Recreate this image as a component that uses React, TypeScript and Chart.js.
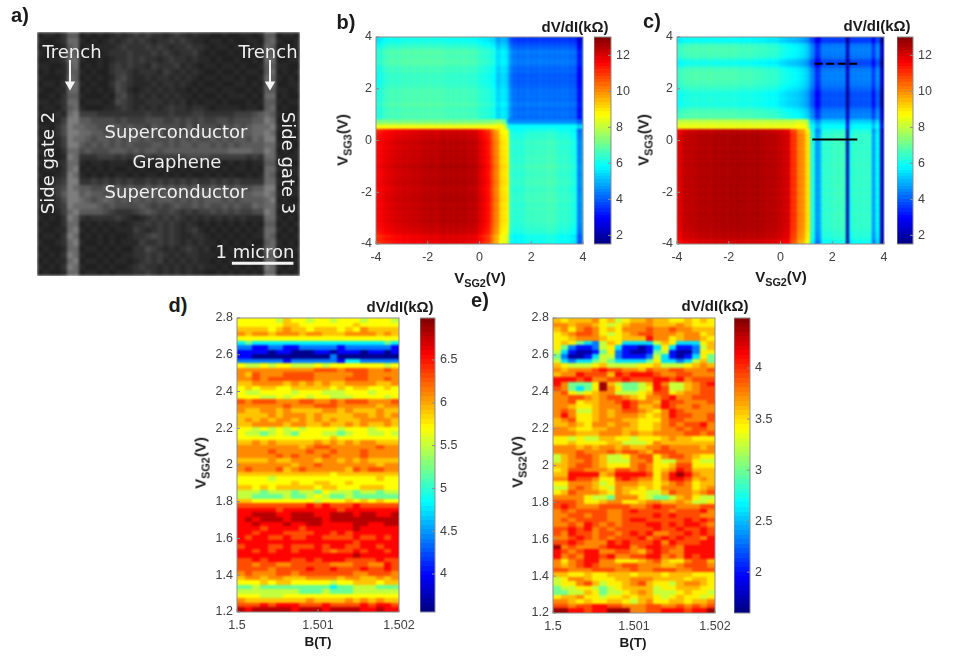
import { useEffect, useRef } from "react";
import { Chart } from "chart.js/auto";

// ---- panel b / c: V_SG2 columns (-4..4 step 0.1), profile picked per V_SG3 row
const bLower = [11.4,11.5,11.6,11.7,11.8,11.8,11.9,11.9,12,12,12,12.1,12,12.1,12.1,12.2,12.1,12.2,12.2,12.3,12.2,12.3,12.3,12.2,12.3,12.3,12.4,12.3,12.3,12.4,12.3,12.4,12.3,12.3,12.4,12.3,12.2,12.3,12.2,12.2,11.9,11.8,11.6,11.4,11.2,10.6,10.1,10,9.2,9,8.9,8.7,6.4,6.3,6.2,6.3,6.2,6.3,6.4,6.5,6.4,6.4,6.5,6.4,6.5,6.4,6.5,6.6,6.5,6.5,6.4,6.3,6.3,6.4,6.3,6.2,6.1,6,4.4,4.3,5.5];
const bBand = [7.7,7.7,7.6,7.7,7.7,7.6,7.7,7.7,7.7,7.6,7.7,7.7,7.6,7.7,7.7,7.7,7.6,7.7,7.7,7.6,7.7,7.7,7.7,7.6,7.7,7.7,7.6,7.7,7.7,7.7,7.6,7.7,7.7,7.6,7.7,7.7,7.7,7.6,7.7,7.7,7.7,7.6,7.7,7.7,7.7,7.8,7.8,7.9,8,7.7,7.2,5.2,5,5,5,5,5,5,5,5,5,5,5,5,5,5,5,5,5,5,5,5,5,5,5,5,5,5,4.4,4.4,5];
const bUpper = [6,6.1,6.2,6.4,6.5,6.5,6.6,6.6,6.5,6.6,6.6,6.6,6.7,6.6,6.6,6.7,6.6,6.6,6.7,6.6,6.6,6.7,6.6,6.6,6.7,6.6,6.6,6.6,6.5,6.6,6.5,6.6,6.5,6.5,6.6,6.5,6.5,6.5,6.5,6.4,6.3,6.3,6.2,6.2,6.1,6,5.9,5.3,5.4,5.6,5.5,5.2,4.5,4.2,4.2,4.1,4.2,4.1,4.2,4.2,4.1,4.2,4.1,4.2,4.2,4.1,4.2,4.1,4.2,4.1,4.2,4.1,4.2,4.1,4.2,4,4.1,4,3.1,3,4.4];
const bRowShift = [-0.6,-0.5,-0.3,-0.5,-0.2,-0.1,-0.1,0,0,0.1,0,0.1,0,0.1,0.1,0,0.1,0.2,0.1,0.1,0.1,0,0.1,0.1,0.2,0.1,0.1,0,0.1,0.1,0.2,0.1,0,0.1,0.1,0,0.1,0,0,0.1,0,-0.1,-0.1,-0.2,-0.4,0.9,0.7,-0.4,-0.6,0,0.1,0.1,0,0.1,0.2,0.1,0,0.1,0,0.1,0,-0.1,-0.1,-0.2,-0.1,-0.2,-0.1,0,-0.1,0.1,0.2,0.2,0.1,0.1,0.2,0.1,-0.1,-0.3,-0.5,-0.6,-0.5];

const cLower = [11.6,11.8,12,12.2,12.2,12.3,12.2,12.3,12.3,12.4,12.3,12.4,12.4,12.3,12.4,12.5,12.4,12.4,12.5,12.4,12.4,12.5,12.4,12.5,12.5,12.4,12.5,12.4,12.4,12.5,12.4,12.5,12.4,12.4,12.4,12.3,12.4,12.3,12.3,12.2,12.2,12.1,12,12,11.1,11,10.9,10.1,10,9.9,9.1,8.9,6.2,6.1,4.6,4.8,6.2,6.3,6.4,6.3,6.4,6.5,6.4,6.5,6.5,6.4,2,6,6.3,6.4,6.4,6.3,6.4,6.3,6.4,6.2,4.6,5.6,5.9,2.1,3.4];
const cBand = [7.7,7.7,7.6,7.7,7.7,7.6,7.7,7.7,7.7,7.6,7.7,7.7,7.6,7.7,7.7,7.7,7.6,7.7,7.7,7.6,7.7,7.7,7.7,7.6,7.7,7.7,7.6,7.7,7.7,7.7,7.6,7.7,7.7,7.6,7.7,7.7,7.7,7.6,7.7,7.7,7.7,7.6,7.7,7.7,7.7,7.7,7.9,7.9,7.8,7.8,7.6,6.4,5,5,4.2,4.3,5,5,5,5,5,5,5,5,5,5,2.2,4.8,5,5,5,5,5,5,5,5,4.2,5,5,2,3.3];
const cUpper = [6.1,6.2,6.3,6.4,6.4,6.5,6.4,6.5,6.5,6.4,6.5,6.4,6.5,6.5,6.4,6.5,6.4,6.5,6.4,6.5,6.4,6.4,6.5,6.4,6.4,6.3,6.4,6.3,6.4,6.3,6.3,6.3,6.2,6.3,6.2,6.2,6.1,6.2,6.1,6.1,5.9,5.9,5.8,5.7,5.7,5.6,5.6,5.5,5.4,5.3,5.1,4.8,4.3,4.1,3.2,3.4,4.2,4.1,4.2,4.1,4.2,4.1,4.2,4.1,4.2,4.1,1.9,4,4.2,4.1,4.2,4.1,4.2,4.1,4.2,4.1,3.3,4.2,4.4,2,2.8];
const cRowShift = [-0.5,-0.4,-0.2,-0.1,-0.1,0,0,0.1,0,0.1,0,0.1,0.1,0,0.1,0,0.1,0.1,0,0.1,0.1,0,0.1,0.1,0,0.1,0.1,0,0.1,0,0.1,0.1,0,0.1,0,0.1,0.1,0,0.1,0,0.1,0,0.1,-0.1,-0.2,0.8,0.8,0.4,0.1,0.3,0.3,0.2,0.1,-0.2,-0.3,-0.3,-0.2,-0.3,-0.3,-0.2,0,0.1,0.2,0.2,0.3,0.2,0.3,0.2,0.1,-0.3,-0.5,-0.3,0.1,0.2,0.2,0.3,0.2,0.1,-0.6,-0.5,-0.5];

const cSolidCut = [{ x: 1.23, y: 0.04 }, { x: 2.97, y: 0.04 }];
const cDashedCut = [{ x: 1.32, y: 2.97 }, { x: 2.97, y: 2.97 }];

// ---- panel d / e: B columns, V_SG2 rows top to bottom, one level character per cell
const dLevels = [3.6,4.0,4.4,4.8,5.2,5.5,5.7,5.9,6.1,6.3,6.55,6.8];
const dRows = [
  "666665766566566656665","666666776666666766666","777767877677767687777","878878887887778888787",
  "666666666666666666666","343333333333333333343","221122112222212222221","111101100011011101101",
  "110000000000200000000","222222122222213322222","655656655565666666656","888888888899989998898",
  "879888999988888998888","889899999988889998898","778888787878778888778","676776677777676776676",
  "655666656665556665666","666556566566555666656","989998889988989998889","888888988899988888788",
  "877887877778878777877","777787888787777887878","787878878787877788887","778888788778778787787",
  "665656565666656665666","655456546665545665565","666666666666766666666","778787777787878788777",
  "888888887899888888988","888898888988988898888","888889898889888898888","777787788878878787777",
  "888888878898888888788","898889789888887989988","777777777777677777777","666656666666666666766",
  "666666676677667666666","776767777767766677766","555455545546555455455","554444544565445444444",
  "776666666656667676766","999999999a9a999a99999","aaaaa9aaaaaaa9aaaaaaa","aabbbaabbbaabbbabbaab",
  "ababbbabbbbabbbbbbbbb","aabaaabaabbaaaabbaabb","aaa9aaaa9aaaaaabaaaaa","aa9aaa9999aa9a9aaaaaa",
  "a9aa99a99aa9999a99a9a","aaaaaaaaaaaaaaa9aaaaa","9aaa99a999a9aa99aa9aa","aa9a9aa9aaa9899a9aa9a",
  "aaaaaaaaaaaaaaabaaaaa","99a9aaa99a9aaa9999a99","9989988999998889988a9","999989999a99a999a99a9",
  "898889989999999889998","788788777888878877878","666767766666566777677","445444444444344555444",
  "555555554445444555555","666555666666666666666","877777777877778787877","999a9aaa999a9999a9aa9",
  "babbbbbabbbabbbbaabaa",
];

const eLevels = [1.7,2.0,2.3,2.6,3.0,3.25,3.45,3.6,3.75,3.92,4.1,4.4];
const eRows = [
  "767778675677877667676","887887656788877787666","786898676888988988777","678998656789988878867",
  "667888766777a88678876","676432576333357633367","642112563110136311257","531001462100145100266",
  "420013552111253101364","532334543333463323574","765556755556675556787","878889a99887988998889",
  "788a9997a9aaa98899888","aaa9a8899a999aa9a8999","a84446b754457a855789a","984346b864456a9557899",
  "896567885556799678899","889987899876889a88999","889677889a9887a998889","887667888a9778a988988",
  "898557878998768a98888","8a8667878887678a99889","789667888776668998889","7787688788766789899a8",
  "887667788776678898998","888777888787788889989","665655776656667877666","667666677555687777777",
  "888787887877889888878","888988898998799988888","578998755689968998766","578898755588965588655",
  "778998766689866799666","6799888799898678a9777","77aaaa78aaaa968aba877","88a998669a98868aa9787",
  "668887568887767898677","558987658776768888678","679888768766557988789","888865548886544578655",
  "999866788667887787556","9a98889999889a9988899","8989999889a99998999a8","8899899889999a9a99988",
  "8989999889aa99999a9a9","8898a9898999aa9a9aa98","99a9a89899999a99a99a9","98a9989989a9a8899a9a9",
  "889a9898999a89a9a998a","99a9888a9a999a8a999aa","b898889aaa89aa998aaaa","a989aa8899879a988aaaa",
  "a898aa9a8899aa898a9aa","8689aa886667897668997","8789a9888998887789998","998889998898899988999",
  "776676677767776777666","568876667788877776776","566897566789766578876","455665456777756677766",
  "445576455678755567665","677866566767765676656","887676677657866776778","99899aa99888998898989",
  "bbaa9aabbb8899aaa9aab",
];

// ---- panel a: micrograph brightness, coarse cells
const aGrays = [25,32,40,50,62,75,90,105,125,150];
const aRows = [
  "12213 66 1212123234 3433234323 22112112212 66 1221",
  "21123 77 2121232343 4323343432 21221211221 67 2112",
  "12112 67 1212223433 3434323343 32122121122 76 1212",
  "21213 76 1121233343 3343432334 21211212212 66 2121",
  "11223 77 2112123343 4332343323 22121121121 77 1122",
  "22112 67 1212134343 3243334232 12212212112 66 2211",
  "12122 66 2121134432 3332432323 21121121221 67 1212",
  "21112 76 1212124532 2323323232 12212212112 76 2121",
  "12213 67 2121135432 2232332321 21121122121 67 1122",
  "21122 77 1212125421 2323232212 12212211212 66 2212",
  "11213 66 2111214532 3232323221 21121222121 77 1211",
  "22123 77 1222125432 2333232312 12212111212 66 2122",
  "12213 67 2111223432 3232343323 32122221221 67 1211",
  "21132 78 4443333333 3433343334 43333344456 76 2112",
  "11224 88 6655554544 4555445454 54455455566 87 1222",
  "22135 87 7665566565 5465555464 55546565677 78 2112",
  "12135 88 7766565656 5556465565 65655656677 87 1221",
  "21224 87 7656656566 5655565656 55656566576 88 1212",
  "12124 88 6565656565 5566565665 66565656666 77 2121",
  "21213 77 5655566656 5665666666 66666777766 87 1212",
  "12112 87 3334443434 4434444455 55444444343 77 2122",
  "21123 77 2122122212 1212121221 12121212122 66 1211",
  "12213 78 1212121121 2112121212 21212122121 77 2122",
  "21123 87 2121212212 1221212121 12121211212 76 1212",
  "12234 88 3343434343 3434343434 33434343333 77 2121",
  "22345 87 6655656565 5656565656 55656565566 88 1212",
  "12246 88 6766565656 6565656565 66565656677 87 2122",
  "21235 88 7656765656 5656665656 56665656666 78 1211",
  "22134 87 7776565555 6545456556 56556565576 77 2122",
  "12124 78 6666543334 5654454343 44545454455 87 1212",
  "21213 87 3233334321 2343434323 23232323222 77 2121",
  "12113 77 1212122123 3434343232 12121212121 66 1212",
  "21122 78 2121212224 3234343234 21212121212 77 2121",
  "12213 87 1212121123 3454343223 32121212122 76 1212",
  "21123 78 2112121222 4334343232 32212121211 67 2121",
  "12112 77 1221212113 3543232343 23121212122 77 1212",
  "21213 87 2112121223 3434323233 22212121212 66 2221",
  "12122 78 1221212212 3434232323 22121212121 77 1112",
  "21213 87 2112121123 4332323232 32212121212 87 2121",
  "12112 77 1221212223 3432323232 21121212121 77 1212",
];

const aArrowLeft = [{ x: 5.52, y: 4.6 }, { x: 5.52, y: 8.6 }];
const aArrowRight = [{ x: 38.98, y: 4.6 }, { x: 38.98, y: 8.6 }];
const aScaleBar = [{ x: 32.6, y: 37.9 }, { x: 42.9, y: 37.9 }];

type Cell = { x0: number; x1: number; y0: number; y1: number; color: string };

const clamp = (v: number) => Math.max(0, Math.min(1, v));
const jet = (v: number, lo: number, hi: number) => {
  const t = clamp((v - lo) / (hi - lo));
  const r = clamp(1.5 - Math.abs(4 * t - 3));
  const g = clamp(1.5 - Math.abs(4 * t - 2));
  const b = clamp(1.5 - Math.abs(4 * t - 1));
  return `rgb(${Math.round(r * 255)},${Math.round(g * 255)},${Math.round(b * 255)})`;
};

function gateCells(lower: number[], band: number[], upper: number[], shift: number[]) {
  const cells: Cell[] = [];
  for (let r = 0; r < shift.length; r++) {
    const profile = r <= 44 ? lower : r <= 48 ? band : upper;
    for (let c = 0; c < profile.length; c++) {
      const x = -4 + c * 0.1;
      const y = -4 + r * 0.1;
      cells.push({ x0: x - 0.05, x1: x + 0.05, y0: y - 0.05, y1: y + 0.05, color: jet(profile[c] + shift[r], 1.52, 13.02) });
    }
  }
  return cells;
}

function fieldCells(rows: string[], levels: number[], lo: number, hi: number) {
  const cells: Cell[] = [];
  const w = 0.002 / 21;
  const h = 1.6 / rows.length;
  rows.forEach((row, r) => {
    for (let c = 0; c < 21; c++) {
      const level = parseInt(row[c] ?? row[row.length - 1], 16);
      cells.push({ x0: 1.5 + c * w, x1: 1.5 + (c + 1) * w, y0: 2.8 - (r + 1) * h, y1: 2.8 - r * h, color: jet(levels[level], lo, hi) });
    }
  });
  return cells;
}

function photoCells() {
  const cells: Cell[] = [];
  aRows.forEach((line, r) => {
    const row = line.replace(/ /g, "");
    for (let c = 0; c < row.length; c++) {
      const g = aGrays[Number(row[c])];
      cells.push({ x0: c, x1: c + 1, y0: r, y1: r + 1, color: `rgb(${g},${g},${g})` });
    }
  });
  return cells;
}

function barCells(lo: number, hi: number) {
  const cells: Cell[] = [];
  for (let k = 0; k < 64; k++) {
    const a = lo + ((hi - lo) * k) / 64;
    const b = lo + ((hi - lo) * (k + 1)) / 64;
    cells.push({ x0: 0, x1: 1, y0: a, y1: b, color: jet((a + b) / 2, lo, hi) });
  }
  return cells;
}

function heatPlugin(cells: Cell[], blur: number, framed: boolean, inwardRight = false) {
  return {
    id: "heat",
    beforeDatasetsDraw(chart: any) {
      const { ctx, chartArea: area, scales } = chart;
      const off = document.createElement("canvas");
      off.width = chart.width;
      off.height = chart.height;
      const o = off.getContext("2d")!;
      for (const cell of cells) {
        let l = Math.round(scales.x.getPixelForValue(cell.x0));
        let r = Math.round(scales.x.getPixelForValue(cell.x1));
        let t = Math.round(scales.y.getPixelForValue(cell.y1));
        let b = Math.round(scales.y.getPixelForValue(cell.y0));
        if (t > b) [t, b] = [b, t];
        if (l <= area.left + 1) l -= 6;
        if (r >= area.right - 1) r += 6;
        if (t <= area.top + 1) t -= 6;
        if (b >= area.bottom - 1) b += 6;
        o.fillStyle = cell.color;
        o.fillRect(l, t, r - l, b - t);
      }
      ctx.save();
      ctx.beginPath();
      ctx.rect(area.left, area.top, area.right - area.left, area.bottom - area.top);
      ctx.clip();
      ctx.filter = `blur(${blur}px)`;
      ctx.drawImage(off, 0, 0);
      ctx.restore();
    },
    afterDatasetsDraw(chart: any) {
      if (!framed) return;
      const { ctx, chartArea: area, scales } = chart;
      ctx.save();
      ctx.strokeStyle = "#8c8c8c";
      ctx.lineWidth = 1;
      ctx.strokeRect(area.left, area.top, area.right - area.left, area.bottom - area.top);
      ctx.beginPath();
      for (const t of scales.y.ticks) {
        const y = scales.y.getPixelForValue(t.value);
        if (inwardRight) {
          ctx.moveTo(area.right, y);
          ctx.lineTo(area.right - 3, y);
        } else {
          ctx.moveTo(area.left, y);
          ctx.lineTo(area.left + 3, y);
        }
      }
      if (!inwardRight) {
        for (const t of scales.x.ticks) {
          const x = scales.x.getPixelForValue(t.value);
          ctx.moveTo(x, area.bottom);
          ctx.lineTo(x, area.bottom - 3);
        }
      }
      ctx.stroke();
      ctx.restore();
    },
  };
}

const tickFont = { family: "Liberation Sans", size: 12.5 };
const tickColor = "#404040";

function axis(min: number, max: number, step: number, digits: number, size: { width?: number; height?: number }, padding = 4) {
  return {
    type: "linear",
    min,
    max,
    grid: { display: false, drawTicks: false },
    border: { display: false },
    afterFit: (s: any) => {
      if (size.width) s.width = size.width;
      if (size.height) s.height = size.height;
    },
    ticks: {
      stepSize: step,
      autoSkip: false,
      maxRotation: 0,
      padding,
      font: tickFont,
      color: tickColor,
      callback: (v: any) => String(+Number(v).toFixed(digits)),
    },
  };
}

function heatConfig(cells: Cell[], xr: number[], yr: number[], datasets: any[] = []) {
  return {
    type: "scatter",
    data: { datasets },
    plugins: [heatPlugin(cells, 0.8, true)],
    options: {
      animation: false,
      responsive: false,
      maintainAspectRatio: false,
      layout: { autoPadding: false, padding: { top: 20, right: 24, left: 0, bottom: 0 } },
      plugins: { legend: { display: false }, tooltip: { enabled: false } },
      scales: {
        x: axis(xr[0], xr[1], xr[2], xr[3], { height: 30 }, 6),
        y: axis(yr[0], yr[1], yr[2], yr[3], { width: 40 }),
      },
    },
  };
}

function barConfig(lo: number, hi: number, step: number, digits: number, firstTick: number) {
  return {
    type: "scatter",
    data: { datasets: [] },
    plugins: [heatPlugin(barCells(lo, hi), 0.4, true, true)],
    options: {
      animation: false,
      responsive: false,
      maintainAspectRatio: false,
      layout: { autoPadding: false, padding: { top: 20, right: 0, left: 0, bottom: 20 } },
      plugins: { legend: { display: false }, tooltip: { enabled: false } },
      scales: {
        x: { type: "linear", min: 0, max: 1, display: false },
        y: {
          ...axis(lo, hi, step, digits, { width: 34 }, 5),
          position: "right",
          afterBuildTicks: (s: any) => {
            const ticks = [];
            for (let v = firstTick; v <= hi; v += step) ticks.push({ value: +v.toFixed(digits) });
            s.ticks = ticks;
          },
        },
      },
    },
  };
}

const line = (data: any[], extra = {}) => ({
  data,
  showLine: true,
  pointRadius: 0,
  borderColor: "#000000",
  borderWidth: 2,
  ...extra,
});

function photoConfig() {
  const white = "#f4f4f4";
  const arrow = (data: any[]) =>
    line(data, {
      borderColor: white,
      backgroundColor: white,
      pointBorderColor: white,
      pointBackgroundColor: white,
      pointStyle: "triangle",
      pointRotation: 180,
      pointRadius: [0, 4],
    });
  return {
    type: "scatter",
    data: {
      datasets: [arrow(aArrowLeft), arrow(aArrowRight), line(aScaleBar, { borderColor: white, borderWidth: 3 })],
    },
    plugins: [heatPlugin(photoCells(), 1.8, false)],
    options: {
      animation: false,
      responsive: false,
      maintainAspectRatio: false,
      layout: { autoPadding: false, padding: 0 },
      plugins: { legend: { display: false }, tooltip: { enabled: false } },
      scales: {
        x: { type: "linear", min: 0, max: 44, display: false },
        y: { type: "linear", min: 0, max: 40, reverse: true, display: false },
      },
    },
  };
}

function ChartCanvas({ left, top, width, height, make }: { left: number; top: number; width: number; height: number; make: () => any }) {
  const ref = useRef<HTMLCanvasElement | null>(null);
  useEffect(() => {
    const chart = new Chart(ref.current as HTMLCanvasElement, make());
    return () => chart.destroy();
  }, []);
  return <canvas ref={ref} width={width} height={height} style={{ position: "absolute", left, top, width, height }} />;
}

function HeatPanel({ l, t, w, h, make }: { l: number; t: number; w: number; h: number; make: () => any }) {
  return <ChartCanvas left={l - 40} top={t - 20} width={w + 64} height={h + 50} make={make} />;
}

function BarPanel({ l, t, w, h, make }: { l: number; t: number; w: number; h: number; make: () => any }) {
  return <ChartCanvas left={l} top={t - 20} width={w + 34} height={h + 40} make={make} />;
}

function Txt({ x, y, size = 15, bold = true, rot = 0, color = "#1a1a1a", font = "Liberation Sans", children }: any) {
  return (
    <div
      style={{
        position: "absolute",
        left: x,
        top: y,
        transform: `translate(-50%,-50%) rotate(${rot}deg)`,
        fontFamily: font,
        fontSize: size,
        fontWeight: bold ? 700 : 400,
        color,
        whiteSpace: "nowrap",
        lineHeight: 1,
      }}
    >
      {children}
    </div>
  );
}

const Vsg = ({ n }: { n: string }) => (
  <span>
    V<sub style={{ fontSize: "0.72em", lineHeight: 0 }}>{n}</sub>(V)
  </span>
);

const Unit = () => <span>dV/dI(kΩ)</span>;

export default function App() {
  const photoText = { size: 18, bold: false, color: "#f0f0f0", font: "DejaVu Sans" };
  return (
    <div style={{ position: "absolute", left: 0, top: 0, width: 969, height: 659, background: "#fff", overflow: "hidden" }}>
      <ChartCanvas left={37} top={32} width={263} height={244} make={photoConfig} />
      <Txt x={72} y={52} {...photoText}>Trench</Txt>
      <Txt x={268} y={52} {...photoText}>Trench</Txt>
      <Txt x={48} y={163} rot={-90} {...photoText}>Side gate 2</Txt>
      <Txt x={288} y={163} rot={90} {...photoText}>Side gate 3</Txt>
      <Txt x={176} y={132} {...photoText}>Superconductor</Txt>
      <Txt x={177} y={162} {...photoText}>Graphene</Txt>
      <Txt x={176} y={192} {...photoText}>Superconductor</Txt>
      <Txt x={255} y={252} {...photoText}>1 micron</Txt>

      <HeatPanel l={376} t={37} w={207} h={207} make={() => heatConfig(gateCells(bLower, bBand, bUpper, bRowShift), [-4, 4, 2, 0], [-4, 4, 2, 0])} />
      <BarPanel l={594} t={37} w={17} h={207} make={() => barConfig(1.52, 13.02, 2, 0, 2)} />
      <HeatPanel
        l={677}
        t={37}
        w={207}
        h={207}
        make={() =>
          heatConfig(gateCells(cLower, cBand, cUpper, cRowShift), [-4, 4, 2, 0], [-4, 4, 2, 0], [
            line(cSolidCut),
            line(cDashedCut, { borderDash: [8, 3.5] }),
          ])
        }
      />
      <BarPanel l={897} t={37} w={16} h={207} make={() => barConfig(1.52, 13.02, 2, 0, 2)} />
      <HeatPanel l={237} t={318} w={162} h={294} make={() => heatConfig(fieldCells(dRows, dLevels, 3.556, 6.99), [1.5, 1.502, 0.001, 3], [1.2, 2.8, 0.2, 1])} />
      <BarPanel l={420} t={318} w={15} h={294} make={() => barConfig(3.556, 6.99, 0.5, 1, 4)} />
      <HeatPanel l={553} t={318} w={162} h={295} make={() => heatConfig(fieldCells(eRows, eLevels, 1.6, 4.49), [1.5, 1.502, 0.001, 3], [1.2, 2.8, 0.2, 1])} />
      <BarPanel l={734} t={318} w={16} h={295} make={() => barConfig(1.6, 4.49, 0.5, 1, 2)} />

      <Txt x={20} y={15} size={20}>a)</Txt>
      <Txt x={346} y={22} size={20}>b)</Txt>
      <Txt x={652} y={21} size={20}>c)</Txt>
      <Txt x={178} y={305} size={20}>d)</Txt>
      <Txt x={480} y={300} size={20}>e)</Txt>

      <Txt x={575} y={26}><Unit /></Txt>
      <Txt x={877} y={25}><Unit /></Txt>
      <Txt x={400} y={306}><Unit /></Txt>
      <Txt x={715} y={305}><Unit /></Txt>

      <Txt x={480} y={277}><Vsg n="SG2" /></Txt>
      <Txt x={342} y={140} rot={-90}><Vsg n="SG3" /></Txt>
      <Txt x={781} y={276}><Vsg n="SG2" /></Txt>
      <Txt x={643} y={140} rot={-90}><Vsg n="SG3" /></Txt>
      <Txt x={318} y={642} size={13.5}>B(T)</Txt>
      <Txt x={200} y={463} rot={-90}><Vsg n="SG2" /></Txt>
      <Txt x={633} y={643} size={13.5}>B(T)</Txt>
      <Txt x={517} y={462} rot={-90}><Vsg n="SG2" /></Txt>
    </div>
  );
}
